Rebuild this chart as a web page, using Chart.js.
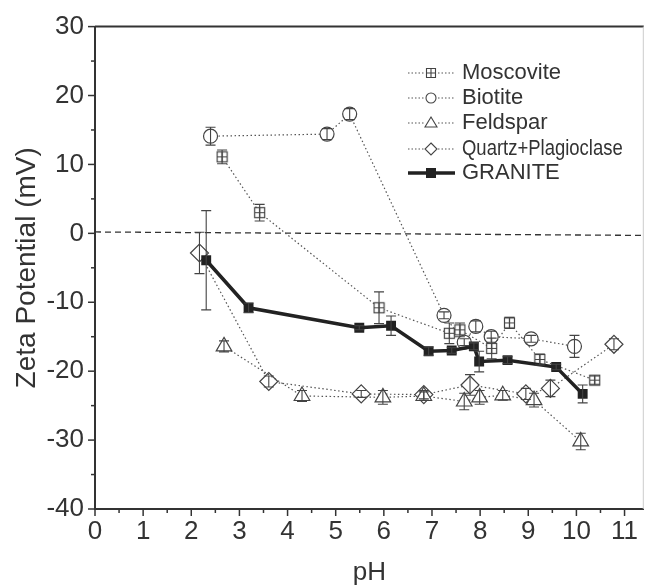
<!DOCTYPE html>
<html>
<head>
<meta charset="utf-8">
<script src="https://cdn.jsdelivr.net/npm/chart.js@4.4.1/dist/chart.umd.min.js"></script>
<style>
  html, body { margin: 0; padding: 0; background: #fff; }
</style>
</head>
<body>
<canvas id="zetaChart" width="654" height="588"></canvas>
<script>
// values
const pHMosc = [2.64, 3.42, 5.9, 7.36, 7.58, 8.24, 8.61, 9.24, 10.38];
const zetaMosc = [11.1, 3.0, -10.8, -14.5, -14.0, -16.7, -13.0, -18.3, -21.3];
const errMosc = [1.0, 1.2, 2.3, 1.5, 1.0, 1.5, 0.8, 0.8, 0.6];

const pHBio = [2.40, 4.82, 5.29, 7.25, 7.67, 7.91, 8.23, 9.06, 9.96];
const zetaBio = [14.1, 14.4, 17.3, -11.9, -15.8, -13.5, -15.0, -15.3, -16.4];
const errBio = [1.3, 0.8, 0.8, 0.5, 0.5, 0.8, 0.8, 0.5, 1.6];

const pHFeld = [2.68, 4.30, 5.98, 6.83, 7.67, 7.99, 8.47, 9.12, 10.09];
const zetaFeld = [-16.4, -23.6, -23.8, -23.6, -24.4, -23.8, -23.5, -24.2, -30.2];
const errFeld = [0.8, 0.8, 1.0, 0.6, 1.2, 1.0, 0.7, 1.0, 1.2];

const pHQuartz = [2.17, 3.61, 5.53, 6.83, 7.79, 8.95, 9.46, 10.78];
const zetaQuartz = [-2.85, -21.5, -23.3, -23.4, -22.0, -23.3, -22.5, -16.1];
const errQuartz = [3.0, 0.8, 0.5, 0.6, 1.5, 0.8, 1.2, 0.8];

const pHGranite = [2.31, 3.19, 5.49, 6.15, 6.93, 7.41, 7.87, 7.98, 8.57, 9.58, 10.13];
const zetaGranite = [-3.9, -10.8, -13.7, -13.4, -17.1, -17.0, -16.4, -18.6, -18.4, -19.4, -23.3];
const errGranite = [7.2, 0.7, 0.3, 1.4, 0.6, 0.4, 0.5, 1.5, 0.5, 0.4, 1.3];

const zeroX = [0, 11.4];
const zeroY = [0.2, -0.3];

const legendNames = ['Moscovite', 'Biotite', 'Feldspar', 'Quartz+Plagioclase', 'GRANITE'];

const ink = '#333';
const fontFamily = '"Liberation Sans", Arial, sans-serif';

function toPoints(xs, ys) {
    return xs.map((x, i) => ({ x: x, y: ys[i] }));
}

// hollow square with a cross inside, used for Moscovite
function makeBoxCross(size) {
    const c = document.createElement('canvas');
    c.width = size;
    c.height = size;
    const g = c.getContext('2d');
    g.fillStyle = '#fff';
    g.fillRect(1, 1, size - 2, size - 2);
    g.strokeStyle = '#444';
    g.lineWidth = 1.2;
    g.strokeRect(1.5, 1.5, size - 3, size - 3);
    g.beginPath();
    g.moveTo(size / 2, 1.5);
    g.lineTo(size / 2, size - 1.5);
    g.moveTo(1.5, size / 2);
    g.lineTo(size - 1.5, size / 2);
    g.stroke();
    return c;
}
const boxCross = makeBoxCross(13);

function dottedSet(label, xs, ys, errs, style, radius) {
    return {
        label: label,
        data: toPoints(xs, ys),
        errors: errs,
        borderColor: '#555',
        borderWidth: 1.2,
        borderDash: [1.5, 2.5],
        pointStyle: style,
        pointRadius: radius,
        pointBackgroundColor: '#fff',
        pointBorderColor: '#444',
        pointBorderWidth: 1.2,
        tension: 0,
        order: 1
    };
}

const errorBars = {
    id: 'errorBars',
    afterDatasetsDraw(chart) {
        const ctx = chart.ctx;
        const ys = chart.scales.y;
        ctx.save();
        ctx.strokeStyle = '#444';
        ctx.lineWidth = 1.1;
        chart.data.datasets.forEach((ds, i) => {
            if (!ds.errors) return;
            const meta = chart.getDatasetMeta(i);
            meta.data.forEach((pt, j) => {
                const e = ds.errors[j];
                if (!e) return;
                const v = ds.data[j].y;
                const top = ys.getPixelForValue(v + e);
                const bot = ys.getPixelForValue(v - e);
                ctx.beginPath();
                ctx.moveTo(pt.x, top);
                ctx.lineTo(pt.x, bot);
                ctx.moveTo(pt.x - 5, top);
                ctx.lineTo(pt.x + 5, top);
                ctx.moveTo(pt.x - 5, bot);
                ctx.lineTo(pt.x + 5, bot);
                ctx.stroke();
            });
        });
        ctx.restore();
    }
};

const frameAndTicks = {
    id: 'frameAndTicks',
    afterDraw(chart) {
        const ctx = chart.ctx;
        const area = chart.chartArea;
        const xs = chart.scales.x;
        const ys = chart.scales.y;
        ctx.save();
        ctx.strokeStyle = ink;
        ctx.lineWidth = 2;
        ctx.beginPath();
        ctx.moveTo(area.left, area.top);
        ctx.lineTo(area.right, area.top);
        ctx.stroke();
        ctx.strokeStyle = '#ccc';
        ctx.lineWidth = 1;
        ctx.beginPath();
        ctx.moveTo(area.right - 0.5, area.top);
        ctx.lineTo(area.right - 0.5, area.bottom);
        ctx.stroke();

        ctx.strokeStyle = ink;
        ctx.lineWidth = 1.5;
        for (let v = 0; v <= 11.4; v += 0.5) {
            const px = xs.getPixelForValue(v);
            const len = Number.isInteger(v) ? 7 : 4;
            ctx.beginPath();
            ctx.moveTo(px, area.bottom);
            ctx.lineTo(px, area.bottom + len);
            ctx.stroke();
        }
        for (let v = -40; v <= 30; v += 5) {
            const py = ys.getPixelForValue(v);
            const len = v % 10 === 0 ? 7 : 4;
            ctx.beginPath();
            ctx.moveTo(area.left, py);
            ctx.lineTo(area.left - len, py);
            ctx.stroke();
        }
        ctx.restore();
    }
};

// legend drawn by hand: dotted line with marker in the middle, as in the figure
const sampleLegend = {
    id: 'sampleLegend',
    afterDraw(chart) {
        const ctx = chart.ctx;
        const rows = [73, 98, 123, 149, 173];
        const x0 = 408, x1 = 455, xm = 431, tx = 462;
        ctx.save();
        ctx.font = '22px ' + fontFamily;
        ctx.textBaseline = 'middle';
        ctx.fillStyle = ink;
        rows.forEach((y, i) => {
            ctx.save();
            if (i < 4) {
                ctx.strokeStyle = '#555';
                ctx.lineWidth = 1.1;
                ctx.setLineDash([1.5, 2]);
                ctx.beginPath();
                ctx.moveTo(x0, y);
                ctx.lineTo(xm - 7, y);
                ctx.moveTo(xm + 7, y);
                ctx.lineTo(x1, y);
                ctx.stroke();
            } else {
                ctx.strokeStyle = '#222';
                ctx.lineWidth = 3.5;
                ctx.beginPath();
                ctx.moveTo(x0, y);
                ctx.lineTo(x1, y);
                ctx.stroke();
            }
            ctx.restore();
            ctx.save();
            ctx.strokeStyle = '#444';
            ctx.lineWidth = 1.1;
            ctx.fillStyle = '#fff';
            ctx.beginPath();
            if (i === 0) {
                ctx.rect(xm - 4.5, y - 4.5, 9, 9);
                ctx.fill();
                ctx.stroke();
                ctx.beginPath();
                ctx.moveTo(xm, y - 4.5);
                ctx.lineTo(xm, y + 4.5);
                ctx.moveTo(xm - 4.5, y);
                ctx.lineTo(xm + 4.5, y);
                ctx.stroke();
            } else if (i === 1) {
                ctx.arc(xm, y, 5, 0, Math.PI * 2);
                ctx.fill();
                ctx.stroke();
            } else if (i === 2) {
                ctx.moveTo(xm, y - 6);
                ctx.lineTo(xm + 6, y + 4);
                ctx.lineTo(xm - 6, y + 4);
                ctx.closePath();
                ctx.fill();
                ctx.stroke();
            } else if (i === 3) {
                ctx.moveTo(xm, y - 6);
                ctx.lineTo(xm + 6, y);
                ctx.lineTo(xm, y + 6);
                ctx.lineTo(xm - 6, y);
                ctx.closePath();
                ctx.fill();
                ctx.stroke();
            } else {
                ctx.fillStyle = '#222';
                ctx.fillRect(xm - 5, y - 5, 10, 10);
            }
            ctx.restore();
            if (i === 3) {
                // this label is set condensed in the figure
                ctx.save();
                ctx.translate(tx, y);
                ctx.scale(0.84, 1);
                ctx.fillText(legendNames[i], 0, 0);
                ctx.restore();
            } else {
                ctx.fillText(legendNames[i], tx, y);
            }
        });
        ctx.restore();
    }
};

const ctx = document.getElementById('zetaChart').getContext('2d');
const zetaChart = new Chart(ctx, {
    type: 'line',
    data: {
        datasets: [
            {
                label: 'zero',
                data: toPoints(zeroX, zeroY),
                borderColor: ink,
                borderWidth: 1.3,
                borderDash: [6, 4],
                pointRadius: 0,
                order: 2
            },
            dottedSet('Moscovite', pHMosc, zetaMosc, errMosc, boxCross, 6),
            dottedSet('Biotite', pHBio, zetaBio, errBio, 'circle', 7),
            dottedSet('Feldspar', pHFeld, zetaFeld, errFeld, 'triangle', 9),
            dottedSet('Quartz+Plagioclase', pHQuartz, zetaQuartz, errQuartz, 'rectRot', 9),
            {
                label: 'GRANITE',
                data: toPoints(pHGranite, zetaGranite),
                errors: errGranite,
                borderColor: '#222',
                borderWidth: 3.5,
                pointStyle: 'rect',
                pointRadius: 7,
                pointBackgroundColor: '#222',
                pointBorderColor: '#222',
                pointBorderWidth: 0,
                tension: 0,
                order: 0
            }
        ]
    },
    options: {
        responsive: false,
        animation: false,
        layout: { padding: { top: 26, right: 1, left: 0, bottom: 0 } },
        plugins: {
            legend: { display: false },
            tooltip: { enabled: false }
        },
        scales: {
            x: {
                type: 'linear',
                min: 0,
                max: 11.4,
                afterFit(scale) { scale.height = 79; },
                grid: { display: false, drawTicks: false, tickLength: 0 },
                border: { display: true, color: ink, width: 2 },
                ticks: {
                    stepSize: 1,
                    includeBounds: false,
                    padding: 7,
                    color: ink,
                    font: { family: fontFamily, size: 26 },
                    maxRotation: 0
                },
                title: {
                    display: true,
                    text: 'pH',
                    color: ink,
                    font: { family: fontFamily, size: 26 },
                    padding: { top: 0, bottom: 0 }
                }
            },
            y: {
                min: -40,
                max: 30,
                afterFit(scale) { scale.width = 95; },
                grid: { display: false, drawTicks: false, tickLength: 0 },
                border: { display: true, color: ink, width: 2 },
                ticks: {
                    stepSize: 10,
                    padding: 11,
                    color: ink,
                    font: { family: fontFamily, size: 26 }
                },
                title: {
                    display: true,
                    text: 'Zeta Potential (mV)',
                    color: ink,
                    font: { family: fontFamily, size: 28 },
                    padding: { top: 10, bottom: 0 }
                }
            }
        }
    },
    plugins: [errorBars, frameAndTicks, sampleLegend]
});
</script>
</body>
</html>
